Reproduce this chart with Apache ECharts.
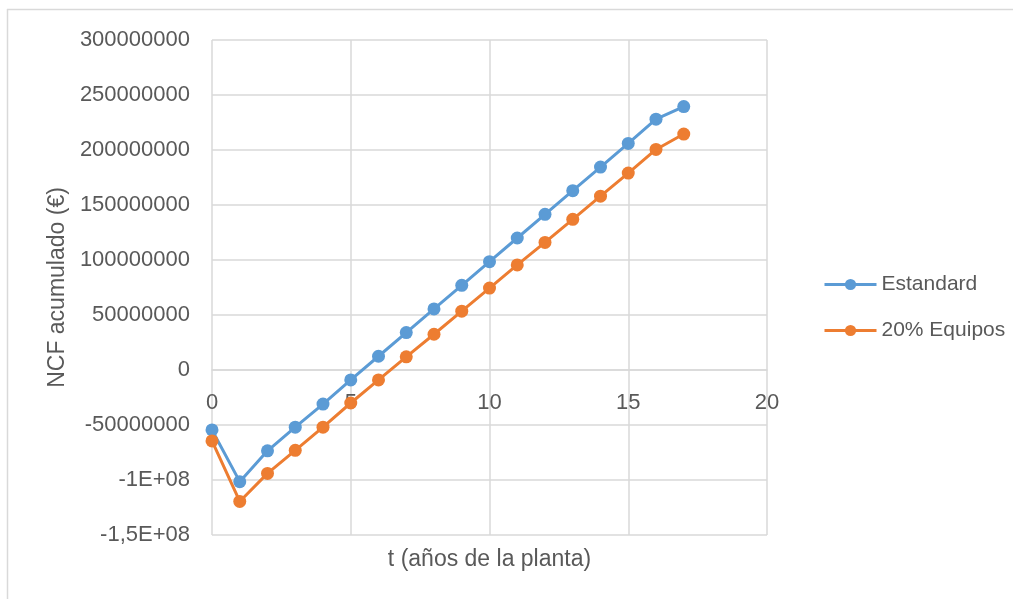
<!DOCTYPE html>
<html>
<head>
<meta charset="utf-8">
<script src="https://cdn.jsdelivr.net/npm/echarts@6/dist/echarts.min.js"></script>
<style>html,body{margin:0;padding:0;background:#fff;}#c{width:1014px;height:599px;}</style>
</head>
<body>
<div id="c"></div>
<script>
const years = [0,1,2,3,4,5,6,7,8,9,10,11,12,13,14,15,16,17];
const estandard = [-54500000,-101500000,-73500000,-52000000,-31000000,-9000000,12500000,34000000,55500000,77000000,98500000,120000000,141500000,163000000,184500000,206000000,228000000,239500000];
const equipos20 = [-64500000,-119500000,-94000000,-73000000,-52000000,-30000000,-9000000,12000000,32500000,53500000,74500000,95500000,116000000,137000000,158000000,179000000,200500000,214500000];
const seriesNames = ['Estandard','20% Equipos'];
const yTickLabels = {'300000000':'300000000','250000000':'250000000','200000000':'200000000','150000000':'150000000','100000000':'100000000','50000000':'50000000','0':'0','-50000000':'-50000000','-100000000':'-1E+08','-150000000':'-1,5E+08'};
const xTitle = 't (años de la planta)';
const yTitle = 'NCF acumulado (€)';

const font = 'Liberation Sans';
const txt = '#595959';
const gridTop = 40, gridBottom = 64, H = 599;
const yMin = -150000000, yMax = 300000000;
// offset moving the x axis from the bottom of the plot to value 0
const plotH = H - gridTop - gridBottom;
const zeroOffset = -plotH * (0 - yMin) / (yMax - yMin);

const chart = echarts.init(document.getElementById('c'));
chart.setOption({
  animation: false,
  backgroundColor: '#fff',
  textStyle: {fontFamily: font},
  grid: {left: 212, right: 247, top: gridTop, bottom: gridBottom, containLabel: false, outerBoundsMode: 'none'},
  graphic: [
    {type: 'line', shape: {x1: 7, y1: 9.5, x2: 1013, y2: 9.5}, style: {stroke: '#d9d9d9', lineWidth: 1.5}},
    {type: 'line', shape: {x1: 7.5, y1: 9, x2: 7.5, y2: 599}, style: {stroke: '#d9d9d9', lineWidth: 1.5}}
  ],
  legend: {
    orient: 'vertical', left: 818, top: 269,
    itemWidth: 52, itemHeight: 14, itemGap: 25,
    lineStyle: {width: 3},
    textStyle: {color: txt, fontSize: 21, fontFamily: font},
    data: seriesNames.map(n => ({name: n, lineStyle: {width: 3}}))
  },
  xAxis: {
    type: 'value', min: 0, max: 20, interval: 5,
    position: 'bottom', offset: zeroOffset,
    name: xTitle, nameLocation: 'middle', nameGap: 178,
    nameTextStyle: {color: txt, fontSize: 23, fontFamily: font},
    axisLine: {onZero: false, lineStyle: {color: '#d9d9d9', width: 1.5}},
    axisTick: {show: false},
    axisLabel: {color: txt, fontSize: 22, margin: 22},
    splitLine: {show: true, lineStyle: {color: '#d9d9d9', width: 1.5}}
  },
  yAxis: {
    type: 'value', min: yMin, max: yMax, interval: 50000000,
    name: yTitle, nameLocation: 'middle', nameGap: 140, nameRotate: 90,
    nameTextStyle: {color: txt, fontSize: 23, fontFamily: font},
    axisLine: {show: false},
    axisTick: {show: false},
    axisLabel: {color: txt, fontSize: 22, margin: 22, formatter: v => yTickLabels[String(v)] ?? String(v)},
    splitLine: {show: true, lineStyle: {color: '#d9d9d9', width: 1.5}}
  },
  series: [
    {name: seriesNames[0], type: 'line', data: years.map((x,i)=>[x, estandard[i]]),
     symbol: 'circle', symbolSize: 13, itemStyle: {color: '#5B9BD5'}, lineStyle: {color: '#5B9BD5', width: 3}},
    {name: seriesNames[1], type: 'line', data: years.map((x,i)=>[x, equipos20[i]]),
     symbol: 'circle', symbolSize: 13, itemStyle: {color: '#ED7D31'}, lineStyle: {color: '#ED7D31', width: 3}}
  ]
});
</script>
</body>
</html>
